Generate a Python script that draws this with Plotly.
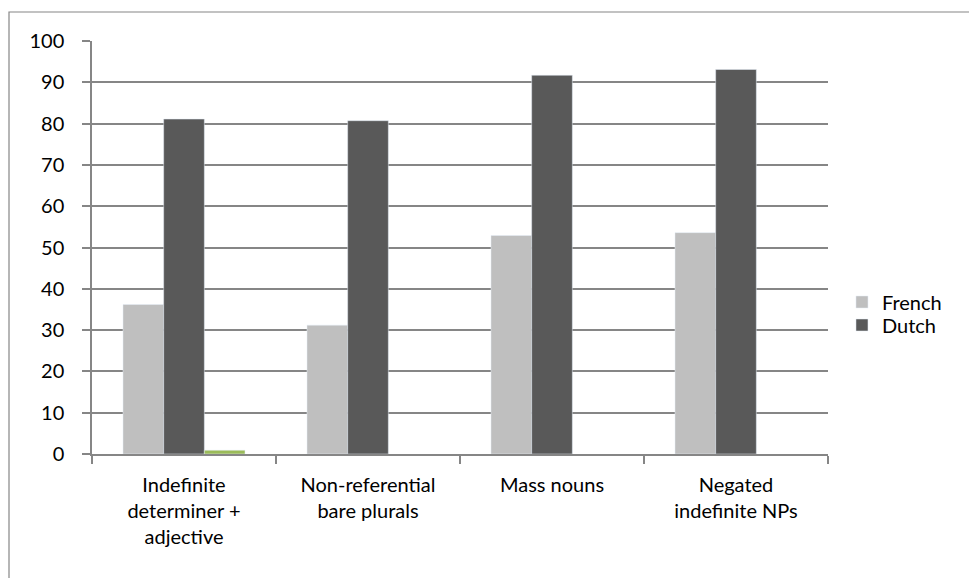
import plotly.graph_objects as go

categories = ["Indefinite<br>determiner +<br>adjective", "Non-referential<br>bare plurals",
              "Mass nouns", "Negated<br>indefinite NPs"]
french = [36.2, 31.2, 52.9, 53.6]
dutch = [81.1, 80.7, 91.7, 93.1]
other = [0.9, None, None, None]
y_ticks = [0, 10, 20, 30, 40, 50, 60, 70, 80, 90, 100]

FONT = "Lato, Carlito, Calibri, sans-serif"
GRID = "#868686"

# page body has an 8px margin, so the figure is placed 8px in from the window edge
W, H = 969, 570
L, T = 84, 33
PW, PH = 736, 413

fig = go.Figure()
fig.add_trace(go.Bar(x=categories, y=french, name="French", marker_color="#BFBFBF",
                     legend="legend"))
fig.add_trace(go.Bar(x=categories, y=dutch, name="Dutch", marker_color="#595959",
                     legend="legend2"))
fig.add_trace(go.Bar(x=categories, y=other, name="Series3", marker_color="#9BBB59",
                     showlegend=False))

leg_common = dict(x=1.019, xanchor="left", yanchor="middle", font=dict(size=20),
                  itemwidth=30, bgcolor="rgba(0,0,0,0)")
fig.update_layout(
    width=W, height=H,
    margin=dict(l=L, r=W - L - PW, t=T, b=H - T - PH, autoexpand=False),
    paper_bgcolor="white", plot_bgcolor="white",
    barmode="group", bargap=0.337, bargroupgap=0,
    font=dict(family=FONT, size=20, color="black"),
    legend=dict(y=(454 - 302) / PH, **leg_common),
    legend2=dict(y=(454 - 325) / PH, **leg_common),
    showlegend=True,
)
fig.update_xaxes(showline=True, linecolor=GRID, linewidth=1.5, ticks="outside",
                 tickson="boundaries", ticklen=8, tickcolor=GRID, tickwidth=1.5,
                 showgrid=False, tickfont=dict(size=20), ticklabelstandoff=12)
fig.update_yaxes(range=[0, 100], tickvals=y_ticks, showline=True, linecolor=GRID,
                 linewidth=1.5, ticks="outside", ticklen=8, tickcolor=GRID, tickwidth=1.5,
                 showgrid=True, gridcolor=GRID, gridwidth=1.5, zeroline=False,
                 tickfont=dict(size=20), ticklabelstandoff=14, fixedrange=True)

fig.add_shape(type="rect", xref="paper", yref="paper",
              x0=(1 - L) / PW, x1=1.5, y0=-0.5, y1=1 + (T - 4) / PH,
              line=dict(color=GRID, width=1.2), fillcolor="rgba(0,0,0,0)", layer="below")

fig.write_html("out.html")
